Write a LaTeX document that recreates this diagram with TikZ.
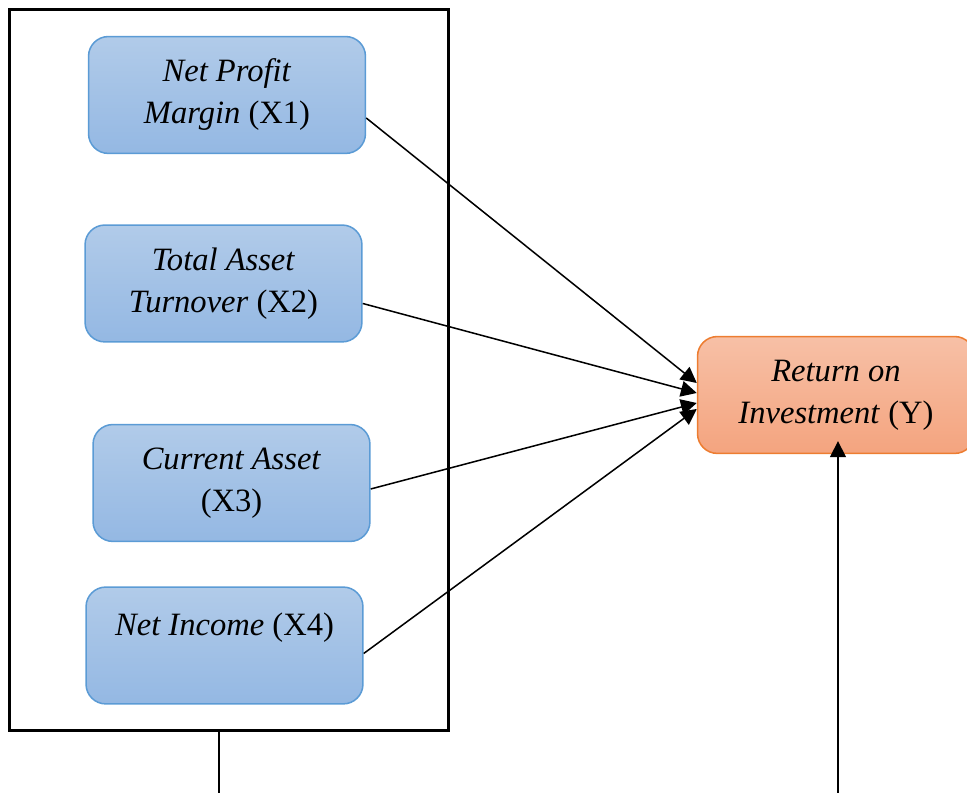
\documentclass[tikz,border=0pt]{standalone}
\usepackage{fontspec}
\setmainfont{Liberation Serif}
\usepackage{tikz}
\usetikzlibrary{positioning, arrows.meta, fit, calc}
\definecolor{varline}{HTML}{5B9BD5}
\definecolor{vartop}{HTML}{B1CBE9}
\definecolor{varbot}{HTML}{94B8E3}
\definecolor{depline}{HTML}{ED7D31}
\definecolor{deptop}{HTML}{F7C0A6}
\definecolor{depbot}{HTML}{F4A47F}
\tikzset{
  indep/.style  = {rectangle, rounded corners=6.5pt, draw=varline, line width=0.5pt,
                   top color=vartop, bottom color=varbot,
                   minimum width=91pt, minimum height=38.4pt, inner sep=2pt,
                   align=center, font=\fontsize{10.7}{13.8}\selectfont},
  dep/.style    = {rectangle, rounded corners=6.5pt, draw=depline, line width=0.5pt,
                   top color=deptop, bottom color=depbot,
                   minimum width=91pt, minimum height=38.4pt, inner sep=2pt,
                   align=center, font=\fontsize{10.7}{13.8}\selectfont},
  frame/.style  = {rectangle, draw=black, line width=1pt, inner sep=0pt},
  ar/.style     = {-{Triangle[length=5.2pt,width=5.2pt]}, line width=0.5pt, draw=black},
  ln/.style     = {line width=0.5pt, draw=black},
}
\begin{document}
\begin{tikzpicture}[x=0.3286pt, y=-0.3286pt]

  \useasboundingbox (0,0) rectangle (967,793);
  \clip (0,0) rectangle (967,793);

  % independent variables
  \node[indep] (x1) at (227,95)    {\textit{Net Profit}\\\textit{Margin} (X1)};
  \node[indep] (x2) at (223.5,283.5) {\textit{Total Asset}\\\textit{Turnover} (X2)};
  \node[indep] (x3) at (231.5,483) {\textit{Current Asset}\\(X3)};
  \node[indep] (x4) at (224.5,645.5) {\textit{Net Income} (X4)\\~};

  \coordinate (ftl) at (9.5,9.5);
  \coordinate (fbr) at (448.5,730.5);
  \node[frame, fit=(ftl)(fbr)] (grp) {};

  % dependent variable
  \node[dep] (roi) at (836,395) {\textit{Return on}\\\textit{Investment} (Y)};

  \draw[ar] ($(x1.east)+(0,23)$) -- ($(roi.west)+(0,-12)$);
  \draw[ar] ($(x2.east)+(0,20)$) -- ($(roi.west)+(0,-2)$);
  \draw[ar] ($(x3.east)+(0,6)$)  -- ($(roi.west)+(0,8)$);
  \draw[ar] ($(x4.east)+(0,8)$)  -- ($(roi.west)+(0,14)$);

  % lines leaving the picture
  \coordinate (gout) at (219,830);
  \coordinate (rout) at (838,830);
  \draw[ln] (grp.south -| gout) -- (gout);
  \draw[ar] (rout) -- ($(roi.south -| rout)+(0,-13)$);

\end{tikzpicture}
\end{document}
